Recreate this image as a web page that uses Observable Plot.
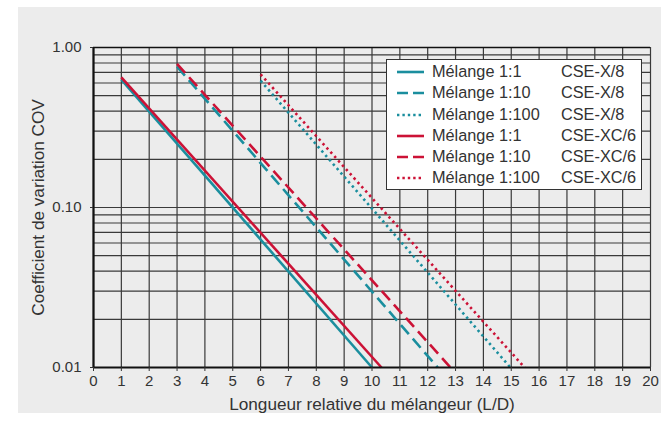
<!DOCTYPE html>
<html>
<head>
<meta charset="utf-8">
<script src="https://cdn.jsdelivr.net/npm/d3@7"></script>
<script src="https://cdn.jsdelivr.net/npm/@observablehq/plot@0.6"></script>
<style>
  html, body { margin: 0; padding: 0; background: #ffffff; }
  #wrap { position: relative; width: 661px; height: 430px; overflow: hidden; font-family: "Liberation Sans", Arial, sans-serif; }
  #bg { position: absolute; left: 18px; top: 7px; width: 643px; height: 406px; background: #ececec; }
  #chart { position: absolute; left: 0; top: 0; }
  #chart svg text { fill: #333; }
  #legend { position: absolute; left: 386px; top: 59px; width: 256px; height: 131px; background: #ffffff; border: 1.3px solid #333; box-sizing: border-box; padding-top: 2px; }
  .row { position: relative; height: 21.3px; font-size: 16.3px; color: #333; }
  .row svg { position: absolute; left: 10px; top: 5px; }
  .row .a { position: absolute; left: 45px; top: 0px; }
  .row .b { position: absolute; left: 174px; top: 0px; }
</style>
</head>
<body>
<div id="wrap">
  <div id="bg"></div>
  <div id="chart"></div>
  <div id="legend"></div>
</div>
<script>
// Series metadata
const seriesNames = ["Mélange 1:1", "Mélange 1:10", "Mélange 1:100", "Mélange 1:1", "Mélange 1:10", "Mélange 1:100"];
const seriesModels = ["CSE-X/8", "CSE-X/8", "CSE-X/8", "CSE-XC/6", "CSE-XC/6", "CSE-XC/6"];
const seriesKind = ["solid", "dashed", "dotted", "solid", "dashed", "dotted"];
const seriesColor = ["#1a8e9e", "#1a8e9e", "#1a8e9e", "#cc1236", "#cc1236", "#cc1236"];

// Values (L/D, COV) — start and end of each straight line on log scale
const x_teal_1 = [1, 10.0];    const y_teal_1 = [0.63, 0.01];
const x_teal_10 = [3, 12.36];  const y_teal_10 = [0.76, 0.01];
const x_teal_100 = [6, 14.97]; const y_teal_100 = [0.62, 0.01];
const x_red_1 = [1, 10.34];    const y_red_1 = [0.65, 0.01];
const x_red_10 = [3, 12.82];   const y_red_10 = [0.79, 0.01];
const x_red_100 = [6, 15.48];  const y_red_100 = [0.68, 0.01];

const seriesX = [x_teal_1, x_teal_10, x_teal_100, x_red_1, x_red_10, x_red_100];
const seriesY = [y_teal_1, y_teal_10, y_teal_100, y_red_1, y_red_10, y_red_100];

// Axis ticks
const xTicks = [0,1,2,3,4,5,6,7,8,9,10,11,12,13,14,15,16,17,18,19,20];
const yTicks = [0.01, 0.1, 1];
const yMinor = [1,2,3,4,5,6,7,8,9];

const yGrid = [];
for (const d of [0.01, 0.1]) for (const m of yMinor) yGrid.push(+(d * m).toFixed(4));
yGrid.push(1);

const dashFor = {solid: null, dashed: "12,6", dotted: "2.4,3.4"};

const lineMarks = seriesX.map((xs, i) => {
  const data = xs.map((x, j) => ({x, y: seriesY[i][j]}));
  const opts = {x: "x", y: "y", stroke: seriesColor[i], strokeWidth: 2.6, strokeLinecap: "butt"};
  if (dashFor[seriesKind[i]]) opts.strokeDasharray = dashFor[seriesKind[i]];
  return Plot.line(data, opts);
});

const chart = Plot.plot({
  width: 661,
  height: 430,
  marginLeft: 93,
  marginRight: 11,
  marginTop: 47,
  marginBottom: 63,
  style: {background: "transparent", fontFamily: "'Liberation Sans', Arial, sans-serif", fontSize: "15px", color: "#333"},
  x: {domain: [0, 20]},
  y: {type: "log", domain: [0.01, 1]},
  marks: [
    Plot.ruleY(yGrid, {y: d => d, stroke: "#3a3a3a", strokeWidth: 1.2}),
    Plot.ruleX(xTicks, {x: d => d, stroke: "#3a3a3a", strokeWidth: 1.2}),
    ...lineMarks,
    Plot.ruleY([1], {stroke: "#111", strokeWidth: 1.5}),
    Plot.ruleX([0], {stroke: "#111", strokeWidth: 2.2}),
    Plot.ruleY([0.01], {stroke: "#111", strokeWidth: 2.2}),
    Plot.axisX({ticks: xTicks, tickSize: 4, tickPadding: 4, tickFormat: d => String(d), label: null, fontSize: 15}),
    Plot.axisY({ticks: yTicks, tickSize: 3, tickPadding: 9, tickFormat: d => d.toFixed(2), label: null, fontSize: 15}),
    Plot.axisX({ticks: [], label: "Longueur relative du mélangeur (L/D)", labelAnchor: "center", labelArrow: "none", labelOffset: 42, fontSize: 17.2}),
    Plot.axisY({ticks: [], label: "Coefficient de variation COV", labelAnchor: "center", labelArrow: "none", labelOffset: 62, fontSize: 17.2})
  ]
});
document.getElementById("chart").appendChild(chart);

// Legend (HTML)
const legend = document.getElementById("legend");
seriesNames.forEach((name, i) => {
  const row = document.createElement("div");
  row.className = "row";
  const dash = dashFor[seriesKind[i]];
  row.innerHTML = `<svg width="28" height="10"><line x1="0" x2="27" y1="5" y2="5" stroke="${seriesColor[i]}" stroke-width="2.6" ${dash ? `stroke-dasharray="${seriesKind[i] === 'dashed' ? '11,5' : '2.4,3'}"` : ""}/></svg><span class="a">${name}</span><span class="b">${seriesModels[i]}</span>`;
  legend.appendChild(row);
});
</script>
</body>
</html>
